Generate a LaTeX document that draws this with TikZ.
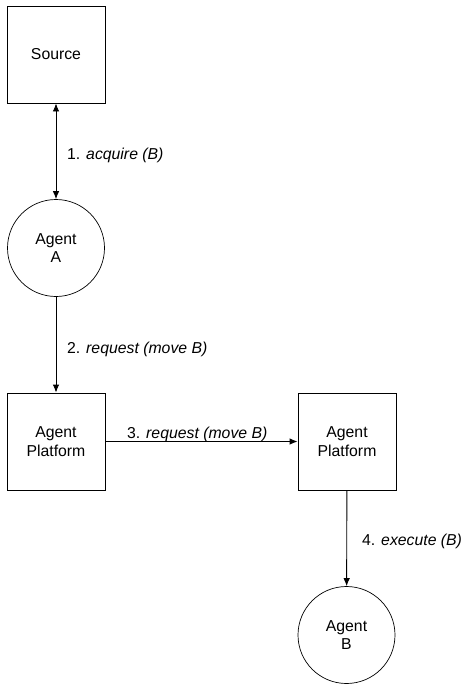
\documentclass[tikz,border=0pt]{standalone}
\usepackage{fontspec}
\setmainfont{Liberation Sans}
\usetikzlibrary{arrows.meta}
\begin{document}
\begin{tikzpicture}[x=1pt,y=-1pt,
  every node/.style={font=\fontsize{15.8}{18.3}\selectfont},
  boxnode/.style={draw,line width=0.9pt,rectangle,minimum width=98pt,minimum height=97pt,inner sep=0pt,align=center},
  agentnode/.style={draw,line width=0.7pt,circle,minimum size=97pt,inner sep=0pt,align=center},
  lbl/.style={anchor=base west,inner sep=0pt},
  conn/.style={line width=0.9pt,-{Latex[length=8pt,width=6.5pt]}},
  dconn/.style={line width=0.9pt,{Latex[length=8pt,width=6.5pt]}-{Latex[length=8pt,width=6.5pt]}}]
\useasboundingbox (0,0) rectangle (466,685);
\node[boxnode] (src) at (56,54.5) {Source};
\node[agentnode] (a) at (56,248) {Agent\\A};
\node[boxnode] (p1) at (56,441.5) {Agent\\Platform};
\node[boxnode] (p2) at (347,441.5) {Agent\\Platform};
\node[agentnode] (b) at (346.5,635) {Agent\\B};
\draw[dconn] (src) -- (a);
\draw[conn] (a) -- (p1);
\draw[conn] (p1) -- (p2);
\draw[conn] (p2) -- (b);
\node[lbl] (l1) at (67,159) {1. \textit{acquire (B)}};
\node[lbl] (l2) at (67,353) {2. \textit{request (move B)}};
\node[lbl] (l3) at (127,438) {3. \textit{request (move B)}};
\node[lbl] (l4) at (362,545) {4. \textit{execute (B)}};
\end{tikzpicture}
\end{document}
